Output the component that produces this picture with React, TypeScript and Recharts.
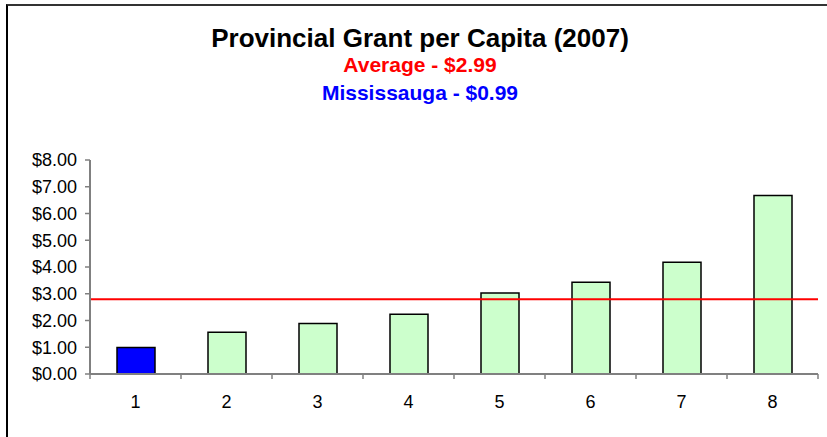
import { BarChart, Bar, XAxis, YAxis, ReferenceLine, Cell } from "recharts";

document.body.style.margin = "0";

const municipalities = ["1", "2", "3", "4", "5", "6", "7", "8"];
const grantPerCapita = [0.99, 1.56, 1.89, 2.23, 3.03, 3.43, 4.18, 6.67];
const averageLine = 2.79;
const yTicks = [0, 1, 2, 3, 4, 5, 6, 7, 8];

const data = municipalities.map((name, i) => ({ name, value: grantPerCapita[i] }));

const W = 827;
const H = 437;
const BAND = (818 - 90) / municipalities.length;
const FONT = '"Liberation Sans", Arial, sans-serif';

function XTick({ x, y, payload, index }: any) {
  return (
    <g>
      <line x1={x - BAND / 2} x2={x - BAND / 2} y1={y - 5} y2={y} stroke="#808080" strokeWidth={1.5} />
      {index === municipalities.length - 1 && (
        <line x1={x + BAND / 2} x2={x + BAND / 2} y1={y - 5} y2={y} stroke="#808080" strokeWidth={1.5} />
      )}
      <text x={x} y={y + 29} textAnchor="middle" fontSize={18} fontFamily={FONT} fill="#000">
        {payload.value}
      </text>
    </g>
  );
}

export default function App() {
  return (
    <div style={{ position: "relative", width: W, height: H, overflow: "hidden", background: "#fff" }}>
      <div
        style={{
          position: "absolute",
          left: 6,
          top: 4,
          width: W + 20,
          height: H + 20,
          borderLeft: "2px solid #000",
          borderTop: "2px solid #333",
        }}
      />
      <svg width={W} height={120} style={{ position: "absolute", left: 0, top: 0 }}>
        <g fontFamily={FONT} fontWeight="bold" textAnchor="middle">
          <text x={420} y={47} fontSize={26} fill="#000">
            Provincial Grant per Capita (2007)
          </text>
          <text x={420} y={72} fontSize={21} fill="#ff0000">
            Average - $2.99
          </text>
          <text x={420} y={100} fontSize={21} fill="#0000ff">
            Mississauga - $0.99
          </text>
        </g>
      </svg>
      <div style={{ position: "absolute", left: 0, top: 0 }}>
        <BarChart width={W} height={H} data={data} margin={{ top: 160, right: 9, bottom: 33, left: 0 }}>
          <XAxis
            dataKey="name"
            height={30}
            axisLine={{ stroke: "#808080", strokeWidth: 2 }}
            tickLine={false}
            tickSize={5}
            tickMargin={0}
            tick={<XTick />}
            interval={0}
          />
          <YAxis
            width={90}
            domain={[0, 8]}
            ticks={yTicks}
            interval={0}
            tickFormatter={(v: number) => `$${v.toFixed(2)}`}
            axisLine={{ stroke: "#808080", strokeWidth: 2 }}
            tickLine={{ stroke: "#808080", strokeWidth: 1.5 }}
            tickSize={5}
            tickMargin={8}
            tick={{ fontSize: 18, fontFamily: FONT, fill: "#000" }}
          />
          <Bar dataKey="value" barSize={38} stroke="#000" strokeWidth={1.5} isAnimationActive={false}>
            {data.map((d, i) => (
              <Cell key={d.name} fill={i === 0 ? "#0000ff" : "#ccffcc"} />
            ))}
          </Bar>
          <ReferenceLine y={averageLine} stroke="#ff0000" strokeWidth={2} ifOverflow="extendDomain" />
        </BarChart>
      </div>
    </div>
  );
}
